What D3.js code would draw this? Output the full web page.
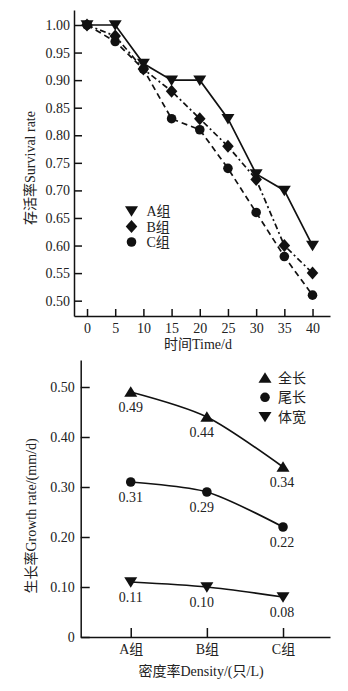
<!DOCTYPE html>
<html><head><meta charset="utf-8">
<script src="https://cdn.jsdelivr.net/npm/d3@7"></script>
<style>
body{margin:0;background:#fff;}
svg text{font-family:"Liberation Serif","Noto Sans CJK SC",serif;fill:#222;}
</style></head><body>
<svg id="c" width="348" height="691"></svg>
<script>
// ---- data: top chart ----
const days = [0,5,10,15,20,25,30,35,40];
const groupNames = ["A组","B组","C组"];
const survA = [1.00,1.00,0.93,0.90,0.90,0.83,0.73,0.70,0.60];
const survB = [1.00,0.98,0.92,0.88,0.83,0.78,0.72,0.60,0.55];
const survC = [1.00,0.97,0.92,0.83,0.81,0.74,0.66,0.58,0.51];
const survTicks = [0.50,0.55,0.60,0.65,0.70,0.75,0.80,0.85,0.90,0.95,1.00];
// ---- data: bottom chart ----
const densityCats = ["A组","B组","C组"];
const growthNames = ["全长","尾长","体宽"];
const totalLen = [0.49,0.44,0.34];
const tailLen = [0.31,0.29,0.22];
const bodyWid = [0.11,0.10,0.08];
const growthTicks = [0,0.10,0.20,0.30,0.40,0.50];

const svg = d3.select("#c");
const FS = 14;

// ================= TOP CHART =================
const xT = d3.scaleLinear().domain([-2.31, 43.1]).range([74, 330]);
const yT = d3.scaleLinear().domain([0.4722, 1.0272]).range([316, 10]);
const gT = svg.append("g");

const axL = gT.append("g").attr("transform","translate(74,0)")
  .call(d3.axisLeft(yT).tickValues(survTicks).tickFormat(d3.format(".2f")).tickSizeInner(-8).tickSizeOuter(0).tickPadding(4));
const axB = gT.append("g").attr("transform","translate(0,316)")
  .call(d3.axisBottom(xT).tickValues(days).tickFormat(d3.format("d")).tickSizeInner(-7).tickSizeOuter(0).tickPadding(7));
[axL, axB].forEach(a=>{
  a.selectAll("path,line").attr("stroke","#111").attr("stroke-width",1.5);
  a.selectAll("text").attr("font-size",FS).attr("fill","#222");
});

gT.append("text").attr("x",198).attr("y",349).attr("text-anchor","middle").attr("font-size",FS).text("时间Time/d");
gT.append("text").attr("transform","translate(35,168) rotate(-90)").attr("text-anchor","middle").attr("font-size",FS).text("存活率Survival rate");

const symDown = d3.symbol().type({draw(ctx,size){const s=Math.sqrt(size);ctx.moveTo(-s*0.62,-s*0.45);ctx.lineTo(s*0.62,-s*0.45);ctx.lineTo(0,s*0.55);ctx.closePath();}}).size(110);
const symUp = d3.symbol().type({draw(ctx,size){const s=Math.sqrt(size);ctx.moveTo(-s*0.62,s*0.45);ctx.lineTo(s*0.62,s*0.45);ctx.lineTo(0,-s*0.55);ctx.closePath();}}).size(110);
const symDiamond = d3.symbol().type({draw(ctx,size){const s=Math.sqrt(size);ctx.moveTo(0,-s*0.62);ctx.lineTo(s*0.55,0);ctx.lineTo(0,s*0.62);ctx.lineTo(-s*0.55,0);ctx.closePath();}}).size(110);
const symCircle = d3.symbol().type(d3.symbolCircle).size(72);

const topSeries = [
  {vals:survA, dash:null, sym:symDown},
  {vals:survB, dash:"6,3,2,3", sym:symDiamond},
  {vals:survC, dash:"6,4", sym:symCircle}
];
const lineT = d3.line().x((d,i)=>xT(days[i])).y(d=>yT(d));
topSeries.slice().reverse().forEach(s=>{
  gT.append("path").attr("d",lineT(s.vals)).attr("fill","none").attr("stroke","#111").attr("stroke-width",1.7)
    .attr("stroke-dasharray",s.dash);
});
topSeries.slice().reverse().forEach(s=>{
  gT.selectAll(null).data(s.vals).enter().append("path")
    .attr("d",s.sym()).attr("transform",(d,i)=>`translate(${xT(days[i])},${yT(d)})`).attr("fill","#111");
});
// legend
topSeries.forEach((s,i)=>{
  const y = 211 + i*15.5;
  gT.append("path").attr("d",s.sym()).attr("transform",`translate(131.5,${y})`).attr("fill","#111");
  gT.append("text").attr("x",146.5).attr("y",y+5).attr("font-size",FS).text(groupNames[i]);
});

// ================= BOTTOM CHART =================
const xB = d3.scaleLinear().domain([-0.657, 2.617]).range([80.7, 330]);
const yB = d3.scaleLinear().domain([0, 0.554]).range([637, 360]);
const gB = svg.append("g");
const axL2 = gB.append("g").attr("transform","translate(80.7,0)")
  .call(d3.axisLeft(yB).tickValues(growthTicks).tickFormat(d=>d===0?"0":d3.format(".2f")(d)).tickSizeInner(-9).tickSizeOuter(0).tickPadding(6));
const axB2 = gB.append("g").attr("transform","translate(0,637)")
  .call(d3.axisBottom(xB).tickValues([0,1,2]).tickFormat(i=>densityCats[i]).tickSizeInner(-9).tickSizeOuter(0).tickPadding(7));
[axL2, axB2].forEach(a=>{
  a.selectAll("path,line").attr("stroke","#111").attr("stroke-width",1.5);
  a.selectAll("text").attr("font-size",FS).attr("fill","#222");
});
gB.append("text").attr("x",201).attr("y",676).attr("text-anchor","middle").attr("font-size",FS).text("密度率Density/(只/L)");
gB.append("text").attr("transform","translate(36,516) rotate(-90)").attr("text-anchor","middle").attr("font-size",FS).text("生长率Growth rate/(mm/d)");

const botSeries = [
  {vals:totalLen, sym:symUp},
  {vals:tailLen, sym:symCircle},
  {vals:bodyWid, sym:symDown}
];
const lineB = d3.line().x((d,i)=>xB(i)).y(d=>yB(d)).curve(d3.curveCardinal.tension(0.2));
const labelDx = [0,-5,-1];
botSeries.forEach(s=>{
  gB.append("path").attr("d",lineB(s.vals)).attr("fill","none").attr("stroke","#111").attr("stroke-width",1.7);
  gB.selectAll(null).data(s.vals).enter().append("path")
    .attr("d",s.sym()).attr("transform",(d,i)=>`translate(${xB(i)},${yB(d)})`).attr("fill","#111");
  gB.selectAll(null).data(s.vals).enter().append("text")
    .attr("x",(d,i)=>xB(i)+labelDx[i]).attr("y",d=>yB(d)+20).attr("text-anchor","middle").attr("font-size",FS)
    .text(d=>d3.format(".2f")(d));
});
botSeries.forEach((s,i)=>{
  const y = 378 + i*19.3;
  gB.append("path").attr("d",s.sym()).attr("transform",`translate(265,${y})`).attr("fill","#111");
  gB.append("text").attr("x",278).attr("y",y+5).attr("font-size",FS).text(growthNames[i]);
});
</script>
</body></html>
